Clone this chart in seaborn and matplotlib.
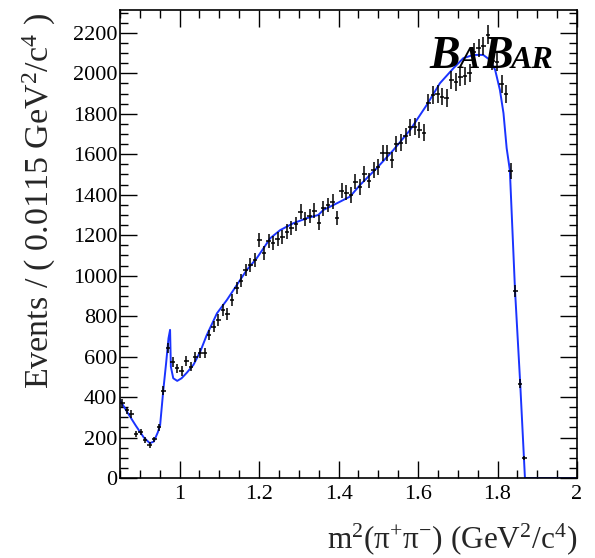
import numpy as np
import pandas as pd
import matplotlib
matplotlib.use("Agg")
import matplotlib.pyplot as plt
from matplotlib.ticker import MultipleLocator, FormatStrFormatter
import seaborn as sns

# ---------------- data ----------------
bin_width = 0.0115
bin_centers = [
    0.85575, 0.86725, 0.87875, 0.89025, 0.90175, 0.91325, 0.92475, 0.93625, 0.94775, 0.95925,
    0.97075, 0.98225, 0.99375, 1.00525, 1.01675, 1.02825, 1.03975, 1.05125, 1.06275, 1.07425,
    1.08575, 1.09725, 1.10875, 1.12025, 1.13175, 1.14325, 1.15475, 1.16625, 1.17775, 1.18925,
    1.20075, 1.21225, 1.22375, 1.23525, 1.24675, 1.25825, 1.26975, 1.28125, 1.29275, 1.30425,
    1.31575, 1.32725, 1.33875, 1.35025, 1.36175, 1.37325, 1.38475, 1.39625, 1.40775, 1.41925,
    1.43075, 1.44225, 1.45375, 1.46525, 1.47675, 1.48825, 1.49975, 1.51125, 1.52275, 1.53425,
    1.54575, 1.55725, 1.56875, 1.58025, 1.59175, 1.60325, 1.61475, 1.62625, 1.63775, 1.64925,
    1.66075, 1.67225, 1.68375, 1.69525, 1.70675, 1.71825, 1.72975, 1.74125, 1.75275, 1.76425,
    1.77575, 1.78725, 1.79875, 1.81025, 1.82175, 1.83325, 1.84475, 1.85625, 1.86775,
]
events = [
    372, 335, 316, 217, 229, 188, 163, 191, 250, 432,
    644, 575, 542, 529, 580, 550, 600, 619, 618, 707,
    748, 781, 830, 811, 880, 938, 975, 1028, 1053, 1078,
    1176, 1111, 1173, 1160, 1180, 1190, 1218, 1234, 1254, 1316,
    1279, 1295, 1321, 1262, 1333, 1349, 1366, 1284, 1420, 1410,
    1399, 1465, 1438, 1503, 1470, 1522, 1536, 1605, 1605, 1572,
    1651, 1657, 1690, 1733, 1737, 1720, 1707, 1855, 1893, 1898,
    1885, 1877, 1967, 1959, 1981, 1987, 2000, 2105, 2125, 2135,
    2190, 2062, 2058, 1947, 1897, 1518, 925, 467, 97,
]

fit_m2 = [
    0.850, 0.870, 0.890, 0.910, 0.925, 0.935, 0.945, 0.951, 0.959, 0.966,
    0.972, 0.976, 0.978, 0.984, 0.994, 1.005, 1.018, 1.035, 1.052, 1.068,
    1.094, 1.119, 1.144, 1.169, 1.194, 1.211, 1.228, 1.253, 1.286, 1.320,
    1.349, 1.362, 1.387, 1.412, 1.429, 1.454, 1.496, 1.538, 1.580, 1.622,
    1.655, 1.689, 1.714, 1.739, 1.764, 1.781, 1.794, 1.806, 1.815, 1.823,
    1.831, 1.844, 1.857, 1.869, 2.000,
]
fit_events = [
    385, 320, 258, 200, 172, 180, 225, 262, 435, 567,
    690, 732, 550, 493, 480, 493, 520, 560, 625, 705,
    814, 880, 954, 1028, 1086, 1135, 1185, 1225, 1259, 1284,
    1300, 1325, 1349, 1374, 1391, 1448, 1531, 1621, 1720, 1844,
    1951, 2025, 2075, 2091, 2091, 2066, 2017, 1918, 1803, 1630,
    1522, 929, 470, 0, 0,
]

x_ticklabels = ["1", "1.2", "1.4", "1.6", "1.8", "2"]
ylabel = r"Events / ( 0.0115 GeV$^{2}$/c$^{4}$ )"
xlabel = r"m$^{2}$(π$^{+}$π$^{-}$) (GeV$^{2}$/c$^{4}$)"

# ---------------- style ----------------
sns.set_style("ticks")
plt.rcParams["font.family"] = ["Liberation Serif", "DejaVu Serif"]
plt.rcParams["mathtext.fontset"] = "custom"
plt.rcParams["mathtext.rm"] = "Liberation Serif"
plt.rcParams["mathtext.it"] = "Liberation Serif:italic"
plt.rcParams["mathtext.bf"] = "Liberation Serif:bold"

fig = plt.figure(figsize=(5.95, 5.58), dpi=100)
ax = fig.add_axes([120 / 595, 1 - 478 / 558, 457 / 595, 468 / 558])

data_df = pd.DataFrame({"m2": bin_centers, "events": events})
fit_df = pd.DataFrame({"m2": fit_m2, "fit": fit_events})

sns.lineplot(data=fit_df, x="m2", y="fit", ax=ax, color="#1a33ff",
             linewidth=1.4, sort=False, estimator=None)
ax.errorbar(data_df["m2"], data_df["events"], yerr=np.sqrt(data_df["events"]),
            xerr=bin_width / 2, fmt="none", ecolor="black", elinewidth=1.1)

ax.set_xlim(0.85, 2.0)
ax.set_ylim(0, 2313)
ax.xaxis.set_minor_locator(MultipleLocator(0.05))
ax.yaxis.set_major_locator(MultipleLocator(200))
ax.yaxis.set_minor_locator(MultipleLocator(50))
ax.set_xticks([1.0, 1.2, 1.4, 1.6, 1.8, 2.0])
ax.set_xticklabels(x_ticklabels)
ax.yaxis.set_major_formatter(FormatStrFormatter("%d"))
ax.tick_params(which="both", direction="in", top=True, right=True,
               labelsize=16, width=1.0, colors="black")
ax.tick_params(which="major", length=12)
ax.tick_params(which="minor", length=6)
ax.tick_params(axis="y", which="major", pad=2)
ax.tick_params(axis="x", which="major", pad=5)
for s in ax.spines.values():
    s.set_linewidth(1.2)
    s.set_color("black")
ax.set_xlabel("")
ax.set_ylabel("")

fig.text(39 / 595, 1 - 13 / 558, ylabel, rotation=90, ha="center", va="top",
         fontsize=24.5)
fig.text(577 / 595, 1 - 539 / 558, xlabel, ha="right", va="center", fontsize=22.5)

# BaBar logo
logo_y = (478 - 68) / 468
for txt, xpx, fs in [("B", 429, 33), ("A", 459, 23), ("B", 482, 33), ("AR", 511, 23)]:
    ax.text((xpx - 120) / 457, logo_y, txt, transform=ax.transAxes,
            fontsize=fs, fontstyle="italic", fontweight="bold",
            ha="left", va="baseline", color="black")

fig.savefig("out.png", dpi=100)
